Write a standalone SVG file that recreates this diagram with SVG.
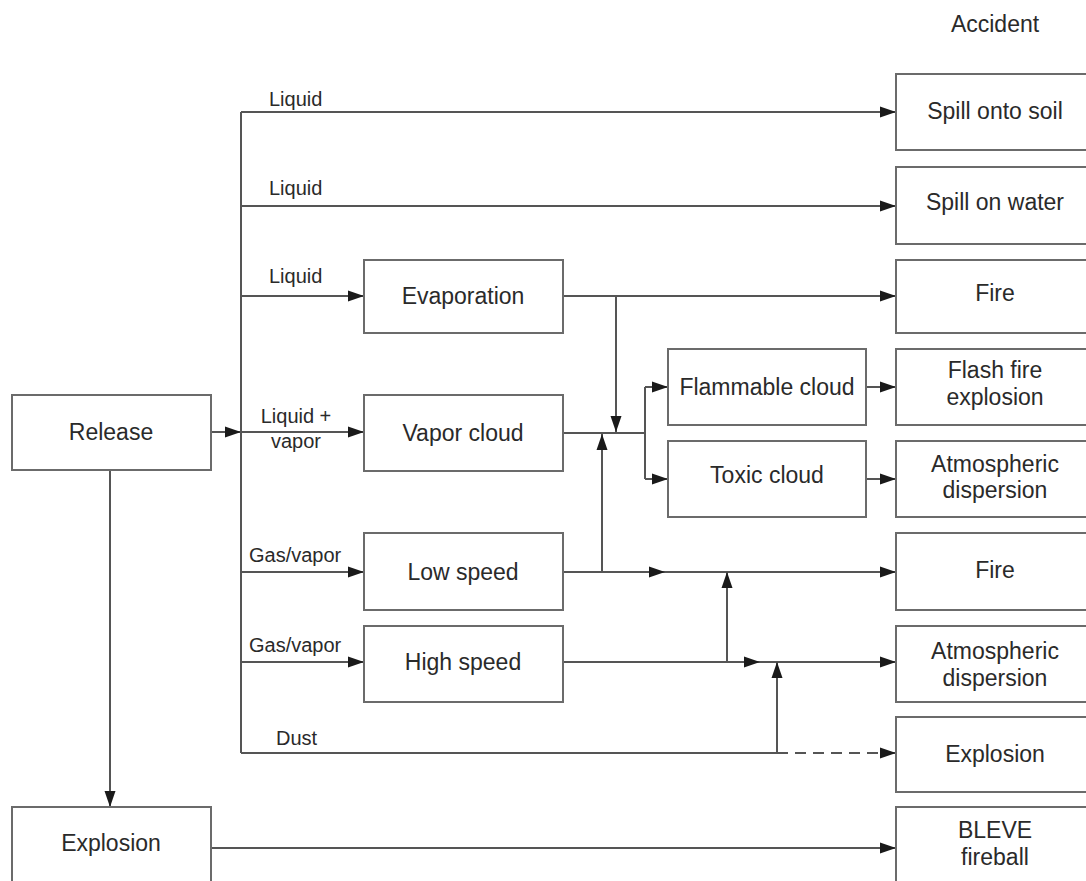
<svg xmlns="http://www.w3.org/2000/svg" width="1086" height="881" viewBox="0 0 1086 881">
  <style>
    .box { fill: #ffffff; stroke: #6b6b6b; stroke-width: 2; }
    .node { font-family: "Liberation Sans", Arial, sans-serif; font-size: 23px; fill: #2a2a2a; text-anchor: middle; }
    .lbl { font-family: "Liberation Sans", Arial, sans-serif; font-size: 20px; fill: #2a2a2a; }
    .ln { fill: none; stroke: #555555; stroke-width: 2; }
    .dash { stroke-dasharray: 11 7; }
  </style>
  <defs>
    <marker id="ah" markerUnits="userSpaceOnUse" markerWidth="17" markerHeight="12" refX="16" refY="6" orient="auto">
      <path d="M0,0.5 L16,6 L0,11.5 z" fill="#1a1a1a"/>
    </marker>
  </defs>

  <rect width="1086" height="881" fill="#ffffff"/>

  <text class="node" x="995" y="32">Accident</text>

  <!-- connectors -->
  <g id="connectors">
    <!-- release to trunk -->
    <path class="ln" d="M211,432 H241" marker-end="url(#ah)"/>
    <path class="ln" d="M241,112 V753"/>
    <!-- release to explosion -->
    <path class="ln" d="M110,470 V807" marker-end="url(#ah)"/>
    <!-- trunk branches -->
    <path class="ln" d="M241,112 H896" marker-end="url(#ah)"/>
    <path class="ln" d="M241,206 H896" marker-end="url(#ah)"/>
    <path class="ln" d="M241,296 H364" marker-end="url(#ah)"/>
    <path class="ln" d="M241,432 H364" marker-end="url(#ah)"/>
    <path class="ln" d="M241,572 H364" marker-end="url(#ah)"/>
    <path class="ln" d="M241,662 H364" marker-end="url(#ah)"/>
    <path class="ln" d="M241,753 H777"/>
    <path class="ln dash" d="M777,753 H896" marker-end="url(#ah)"/>
    <!-- evaporation -->
    <path class="ln" d="M563,296 H896" marker-end="url(#ah)"/>
    <path class="ln" d="M616,296 V432" marker-end="url(#ah)"/>
    <!-- vapor cloud to branch -->
    <path class="ln" d="M563,433 H645"/>
    <path class="ln" d="M645,387 V479"/>
    <path class="ln" d="M645,387 H668" marker-end="url(#ah)"/>
    <path class="ln" d="M645,479 H668" marker-end="url(#ah)"/>
    <path class="ln" d="M866,387 H896" marker-end="url(#ah)"/>
    <path class="ln" d="M866,479 H896" marker-end="url(#ah)"/>
    <!-- low speed -->
    <path class="ln" d="M563,572 H665" marker-end="url(#ah)"/>
    <path class="ln" d="M665,572 H896" marker-end="url(#ah)"/>
    <path class="ln" d="M602,572 V434" marker-end="url(#ah)"/>
    <!-- high speed -->
    <path class="ln" d="M563,662 H760" marker-end="url(#ah)"/>
    <path class="ln" d="M760,662 H896" marker-end="url(#ah)"/>
    <path class="ln" d="M727,662 V572" marker-end="url(#ah)"/>
    <path class="ln" d="M777,753 V662" marker-end="url(#ah)"/>
    <!-- explosion to BLEVE -->
    <path class="ln" d="M211,848 H896" marker-end="url(#ah)"/>
  </g>

  <!-- branch labels -->
  <g id="labels">
    <text class="lbl" x="269" y="106">Liquid</text>
    <text class="lbl" x="269" y="195">Liquid</text>
    <text class="lbl" x="269" y="283">Liquid</text>
    <text class="lbl" x="296" y="423" text-anchor="middle">Liquid +</text>
    <text class="lbl" x="296" y="448" text-anchor="middle">vapor</text>
    <text class="lbl" x="249" y="562">Gas/vapor</text>
    <text class="lbl" x="249" y="652">Gas/vapor</text>
    <text class="lbl" x="276" y="745">Dust</text>
  </g>

  <!-- source nodes -->
  <g id="release"><rect class="box" x="12" y="395" width="199" height="75"/><text class="node" x="111" y="440">Release</text></g>
  <g id="explosion-src"><rect class="box" x="12" y="807" width="199" height="90"/><text class="node" x="111" y="851">Explosion</text></g>

  <!-- intermediate nodes -->
  <g id="evaporation"><rect class="box" x="364" y="260" width="199" height="73"/><text class="node" x="463" y="304">Evaporation</text></g>
  <g id="vapor-cloud"><rect class="box" x="364" y="395" width="199" height="76"/><text class="node" x="463" y="441">Vapor cloud</text></g>
  <g id="low-speed"><rect class="box" x="364" y="533" width="199" height="77"/><text class="node" x="463" y="580">Low speed</text></g>
  <g id="high-speed"><rect class="box" x="364" y="626" width="199" height="76"/><text class="node" x="463" y="670">High speed</text></g>
  <g id="flammable-cloud"><rect class="box" x="668" y="349" width="198" height="76"/><text class="node" x="767" y="395">Flammable cloud</text></g>
  <g id="toxic-cloud"><rect class="box" x="668" y="441" width="198" height="76"/><text class="node" x="767" y="483">Toxic cloud</text></g>

  <!-- accident outcomes -->
  <g id="spill-soil"><rect class="box" x="896" y="74" width="199" height="76"/><text class="node" x="995" y="119">Spill onto soil</text></g>
  <g id="spill-water"><rect class="box" x="896" y="167" width="199" height="77"/><text class="node" x="995" y="210">Spill on water</text></g>
  <g id="fire-1"><rect class="box" x="896" y="260" width="199" height="73"/><text class="node" x="995" y="301">Fire</text></g>
  <g id="flash-fire"><rect class="box" x="896" y="349" width="199" height="76"/><text class="node" x="995" y="378">Flash fire</text><text class="node" x="995" y="405">explosion</text></g>
  <g id="atmos-1"><rect class="box" x="896" y="441" width="199" height="76"/><text class="node" x="995" y="472">Atmospheric</text><text class="node" x="995" y="498">dispersion</text></g>
  <g id="fire-2"><rect class="box" x="896" y="533" width="199" height="77"/><text class="node" x="995" y="578">Fire</text></g>
  <g id="atmos-2"><rect class="box" x="896" y="626" width="199" height="76"/><text class="node" x="995" y="659">Atmospheric</text><text class="node" x="995" y="686">dispersion</text></g>
  <g id="explosion-out"><rect class="box" x="896" y="717" width="199" height="75"/><text class="node" x="995" y="762">Explosion</text></g>
  <g id="bleve"><rect class="box" x="896" y="807" width="199" height="90"/><text class="node" x="995" y="838">BLEVE</text><text class="node" x="995" y="865">fireball</text></g>
</svg>
